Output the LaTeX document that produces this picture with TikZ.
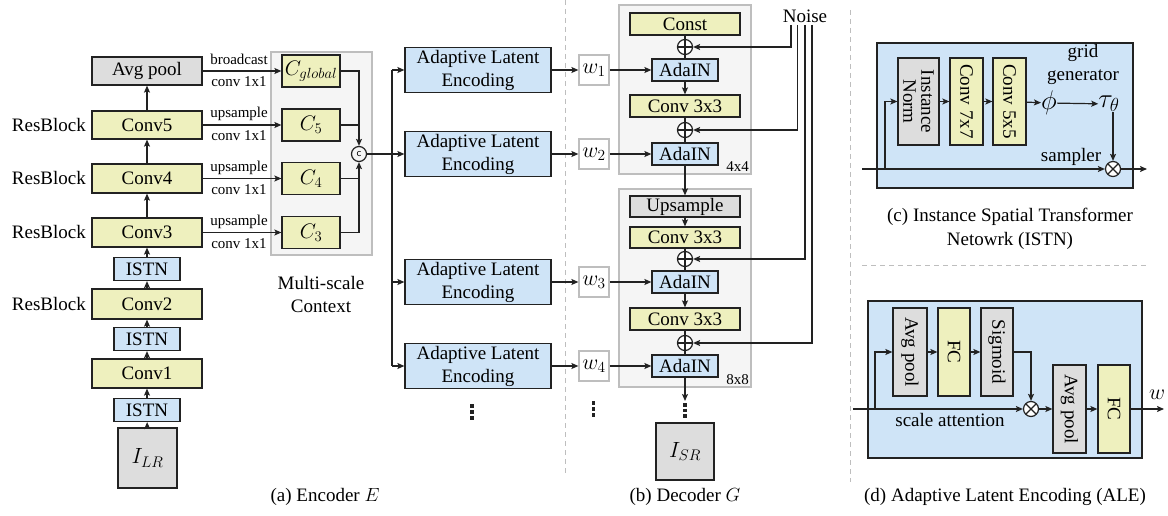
\RequirePackage{fix-cm}
\documentclass[tikz,border=0pt]{standalone}
\usepackage{fontspec}
\setmainfont{Liberation Serif}
\usetikzlibrary{arrows.meta,calc}
\definecolor{yel}{RGB}{238,240,190}
\definecolor{blu}{RGB}{207,228,247}
\definecolor{gry}{RGB}{221,221,221}
\definecolor{pan}{RGB}{245,245,245}
\definecolor{panb}{RGB}{190,190,190}
\definecolor{ln}{RGB}{34,34,34}
\begin{document}
\begin{tikzpicture}[x=1pt,y=-1pt,
  every node/.style={font=\fontsize{19}{23}\selectfont, inner sep=0pt, text=black},
  box/.style={draw=ln, line width=1.2pt, rectangle},
  yb/.style={box, fill=yel},
  bb/.style={box, fill=blu},
  gb/.style={box, fill=gry},
  wbox/.style={draw=panb, line width=1.2pt, fill=white, minimum width=30, minimum height=30, font=\fontsize{22}{22}\selectfont},
  cbox/.style={yb, minimum width=58, minimum height=32, font=\fontsize{21}{21}\selectfont},
  panel/.style={draw=panb, line width=1.2pt, fill=pan},
  arr/.style={draw=ln, line width=1.2pt, -{Stealth[length=7pt,width=6pt,inset=1.5pt]}},
  lin/.style={draw=ln, line width=1.2pt},
  small/.style={font=\fontsize{15}{17}\selectfont},
  sepl/.style={draw=panb, line width=0.9pt, dash pattern=on 5pt off 4pt},
  oplus/.style={circle, draw=ln, line width=1.2pt, minimum size=15, fill=white,
    path picture={\draw[ln, line width=1.2pt] (path picture bounding box.north) -- (path picture bounding box.south)
      (path picture bounding box.west) -- (path picture bounding box.east);}},
  otimes/.style={circle, draw=ln, line width=1.2pt, minimum size=15, fill=white,
    path picture={\draw[ln, line width=1.2pt] (path picture bounding box.north east) -- (path picture bounding box.south west)
      (path picture bounding box.north west) -- (path picture bounding box.south east);}},
  rlab/.style={rotate=-90, align=center, font=\fontsize{19}{18}\selectfont},
  bigm/.style={font=\fontsize{27}{27}\selectfont},
]
\useasboundingbox (0,0) rectangle (1168,516);

% ---------------- (a) Encoder ----------------
\node[gb, minimum width=110, minimum height=28] (avg) at (147,71) {Avg pool};
\node[yb, minimum width=110, minimum height=28] (cv5) at (147,125) {Conv5};
\node[yb, minimum width=110, minimum height=29] (cv4) at (147,178.5) {Conv4};
\node[yb, minimum width=110, minimum height=29] (cv3) at (147,232.5) {Conv3};
\node[bb, minimum width=66, minimum height=23] (is3) at (147,269) {ISTN};
\node[yb, minimum width=110, minimum height=30] (cv2) at (147,304) {Conv2};
\node[bb, minimum width=66, minimum height=23] (is2) at (147,339) {ISTN};
\node[yb, minimum width=110, minimum height=29] (cv1) at (147,373.5) {Conv1};
\node[bb, minimum width=66, minimum height=23] (is1) at (147,410) {ISTN};
\node[gb, minimum width=59, minimum height=60, font=\fontsize{22}{22}\selectfont] (ilr) at (147.5,458) {$I_{LR}$};

\node[anchor=east] (rb5) at (86,125) {ResBlock};
\node[anchor=east] (rb4) at (86,178.5) {ResBlock};
\node[anchor=east] (rb3) at (86,232.5) {ResBlock};
\node[anchor=east] (rb2) at (86,304) {ResBlock};

\draw[arr] (ilr) -- (is1);
\draw[arr] (is1) -- (cv1);
\draw[arr] (cv1) -- (is2);
\draw[arr] (is2) -- (cv2);
\draw[arr] (cv2) -- (is3);
\draw[arr] (is3) -- (cv3);
\draw[arr] (cv3) -- (cv4);
\draw[arr] (cv4) -- (cv5);
\draw[arr] (cv5) -- (avg);

% multi-scale context
\node[panel, minimum width=101, minimum height=203] (msc) at (321.5,153.5) {};
\node[cbox] (cg) at (311,71) {$C_{global}$};
\node[cbox] (c5) at (311,125) {$C_5$};
\node[cbox] (c4) at (311,178.5) {$C_4$};
\node[cbox] (c3) at (311,232.5) {$C_3$};
\node[circle, draw=ln, line width=1.2pt, minimum size=15, font=\fontsize{11}{11}\selectfont\sffamily] (cat) at (359,154) {c};

\draw[arr] (avg.east) -- (cg.west);
\draw[arr] (cv5.east) -- (c5.west);
\draw[arr] (cv4.east) -- (c4.west);
\draw[arr] (cv3.east) -- (c3.west);
\node[small] (l1a) at (239,59) {broadcast};
\node[small] (l1b) at (239,82) {conv 1x1};
\node[small] (l2a) at (239,114) {upsample};
\node[small] (l2b) at (239,136) {conv 1x1};
\node[small] (l3a) at (239,167.5) {upsample};
\node[small] (l3b) at (239,189.5) {conv 1x1};
\node[small] (l4a) at (239,221.5) {upsample};
\node[small] (l4b) at (239,243.5) {conv 1x1};

\draw[arr] (cg.east) -| (cat.north);
\draw[lin] (c5.east) -- (c5.east -| cat.north);
\draw[arr] (c3.east) -| (cat.south);
\draw[lin] (c4.east) -- (c4.east -| cat.south);

\node[align=center] (msl) at (321,295) {Multi-scale\\Context};

% ALE boxes
\node[bb, minimum width=146, minimum height=45, align=center] (ale1) at (478,70) {Adaptive Latent\\Encoding};
\node[bb, minimum width=146, minimum height=45, align=center] (ale2) at (478,154) {Adaptive Latent\\Encoding};
\node[bb, minimum width=146, minimum height=45, align=center] (ale3) at (478,282) {Adaptive Latent\\Encoding};
\node[bb, minimum width=146, minimum height=45, align=center] (ale4) at (478,366) {Adaptive Latent\\Encoding};
\coordinate (bus) at (392,154);
\draw[arr] (cat.east) -- (ale2.west);
\draw[lin] (bus |- ale1.west) -- (bus |- ale4.west);
\draw[arr] (bus |- ale1.west) -- (ale1.west);
\draw[arr] (bus |- ale3.west) -- (ale3.west);
\draw[arr] (bus |- ale4.west) -- (ale4.west);
\foreach \yy in {404,410,416} \fill[ln] (470.3,\yy) rectangle ++(3.6,3.8);

\node (capa) at (325,497) {(a) Encoder $E$};

% separator
\draw[sepl] (565,0) -- (565,473);

% ---------------- (b) Decoder ----------------
\node[wbox] (w1) at (594,70) {$w_1$};
\node[wbox] (w2) at (594,154) {$w_2$};
\node[wbox] (w3) at (594,282) {$w_3$};
\node[wbox] (w4) at (594,366) {$w_4$};
\draw[arr] (ale1) -- (w1);
\draw[arr] (ale2) -- (w2);
\draw[arr] (ale3) -- (w3);
\draw[arr] (ale4) -- (w4);
\foreach \yy in {401,407,413} \fill[ln] (591.5,\yy) rectangle ++(3.6,3.8);

\node[panel, minimum width=132, minimum height=169] (pa1) at (685,89.5) {};
\node[panel, minimum width=132, minimum height=198] (pa2) at (685,288) {};

\node[yb, minimum width=110, minimum height=22] (const) at (685,24) {Const};
\node[oplus] (p1) at (685,47) {};
\node[bb, minimum width=66, minimum height=22] (ad1) at (685,70) {AdaIN};
\node[yb, minimum width=110, minimum height=22] (k1) at (685,106) {Conv 3x3};
\node[oplus] (p2) at (685,130) {};
\node[bb, minimum width=66, minimum height=22] (ad2) at (685,154) {AdaIN};
\node[small, anchor=south east] (s4) at (749,172) {4x4};

\node[gb, minimum width=110, minimum height=21] (ups) at (685,206.5) {Upsample};
\node[yb, minimum width=110, minimum height=21] (k2) at (685,237.5) {Conv 3x3};
\node[oplus] (p3) at (685,259) {};
\node[bb, minimum width=66, minimum height=22] (ad3) at (685,282) {AdaIN};
\node[yb, minimum width=110, minimum height=22] (k3) at (685,319) {Conv 3x3};
\node[oplus] (p4) at (685,343) {};
\node[bb, minimum width=66, minimum height=22] (ad4) at (685,366) {AdaIN};
\node[small, anchor=south east] (s8) at (749,385) {8x8};

\draw[lin] (const) -- (p1);
\draw[lin] (p1) -- (ad1);
\draw[arr] (ad1) -- (k1);
\draw[lin] (k1) -- (p2);
\draw[lin] (p2) -- (ad2);
\draw[arr] (ad2) -- (ups);
\draw[arr] (ups) -- (k2);
\draw[lin] (k2) -- (p3);
\draw[lin] (p3) -- (ad3);
\draw[arr] (ad3) -- (k3);
\draw[lin] (k3) -- (p4);
\draw[lin] (p4) -- (ad4);
\coordinate (dd) at (685,401);
\draw[arr] (ad4) -- (dd);
\draw[ln, line width=3.8pt, dash pattern=on 3.5pt off 2.2pt] (685,403) -- (685,420);
\node[gb, minimum width=58, minimum height=57, font=\fontsize{22}{22}\selectfont] (isr) at (685,451.5) {$I_{SR}$};

\draw[arr] (w1) -- (ad1);
\draw[arr] (w2) -- (ad2);
\draw[arr] (w3) -- (ad3);
\draw[arr] (w4) -- (ad4);

\node (noise) at (805,16) {Noise};
\coordinate (n1) at (791,25);
\coordinate (n2) at (797.5,25);
\coordinate (n3) at (805,25);
\coordinate (n4) at (812,25);
\draw[arr] (n1) |- (p1.east);
\draw[arr] (n2) |- (p2.east);
\draw[arr] (n3) |- (p3.east);
\draw[arr] (n4) |- (p4.east);

\node (capb) at (685,497) {(b) Decoder $G$};

% separators right
\draw[sepl] (850,10) -- (850,482);
\draw[sepl] (862,265) -- (1148,265);

% ---------------- (c) ISTN ----------------
\node[box, fill=blu, minimum width=256, minimum height=145] (istnp) at (1005,115.5) {};
\node[gb, minimum width=41, minimum height=87, label={[rlab]center:{Instance\\Norm}}] (inorm) at (918.5,101.5) {};
\node[yb, minimum width=33, minimum height=87, label={[rlab]center:{Conv 7x7}}] (c7) at (966.5,101.5) {};
\node[yb, minimum width=33, minimum height=87, label={[rlab]center:{Conv 5x5}}] (c5x) at (1009.5,101.5) {};
\node[bigm] (phi) at (1049,103) {$\phi$};
\node[bigm] (tau) at (1109,104) {$\tau_\theta$};
\node[align=center] (gg) at (1083,64) {grid\\generator};
\node[otimes] (ot1) at (1113,169) {};
\node (smp) at (1071,157) {sampler};
\coordinate (istnin) at (862,169);
\coordinate (istnout) at (1147,169);
\coordinate (br1) at (885,169);
\draw[arr] (istnin) -- (ot1);
\draw[arr] (ot1) -- (istnout);
\draw[arr] (br1) |- (inorm.west);
\draw[arr] (inorm) -- (c7);
\draw[arr] (c7) -- (c5x);
\draw[arr] (c5x) -- (phi);
\draw[arr] (phi) -- (tau);
\draw[arr] (ot1 |- tau.south) -- (ot1.north);
\node[align=center, font=\fontsize{19}{24}\selectfont] (capc) at (1010,229) {(c) Instance Spatial Transformer\\Netowrk (ISTN)};

% ---------------- (d) ALE ----------------
\node[box, fill=blu, minimum width=274, minimum height=157] (alep) at (1005,379.5) {};
\node[gb, minimum width=34, minimum height=88, label={[rlab]center:{Avg pool}}] (ap1) at (910,352) {};
\node[yb, minimum width=32, minimum height=88, label={[rlab]center:{FC}}] (fc1) at (954,352) {};
\node[gb, minimum width=32, minimum height=88, label={[rlab]center:{Sigmoid}}] (sg) at (997,352) {};
\node[gb, minimum width=33, minimum height=88, label={[rlab]center:{Avg pool}}] (ap2) at (1069.5,409) {};
\node[yb, minimum width=32, minimum height=88, label={[rlab]center:{FC}}] (fc2) at (1114,409) {};
\node[otimes] (ot2) at (1031,409) {};
\coordinate (alein) at (853,409);
\coordinate (br2) at (875,409);
\coordinate (aleout) at (1164,409);
\draw[arr] (alein) -- (ot2);
\draw[arr] (br2) |- (ap1.west);
\draw[arr] (ap1) -- (fc1);
\draw[arr] (fc1) -- (sg);
\draw[arr] (sg.east) -| (ot2.north);
\draw[arr] (ot2) -- (ap2);
\draw[arr] (ap2) -- (fc2);
\draw[arr] (fc2.east) -- (aleout);
\node[font=\fontsize{22}{22}\selectfont] (wout) at (1157,395) {$w$};
\node (sat) at (950,420) {scale attention};
\node (capd) at (1005,497) {(d) Adaptive Latent Encoding (ALE)};
\end{tikzpicture}
\end{document}
